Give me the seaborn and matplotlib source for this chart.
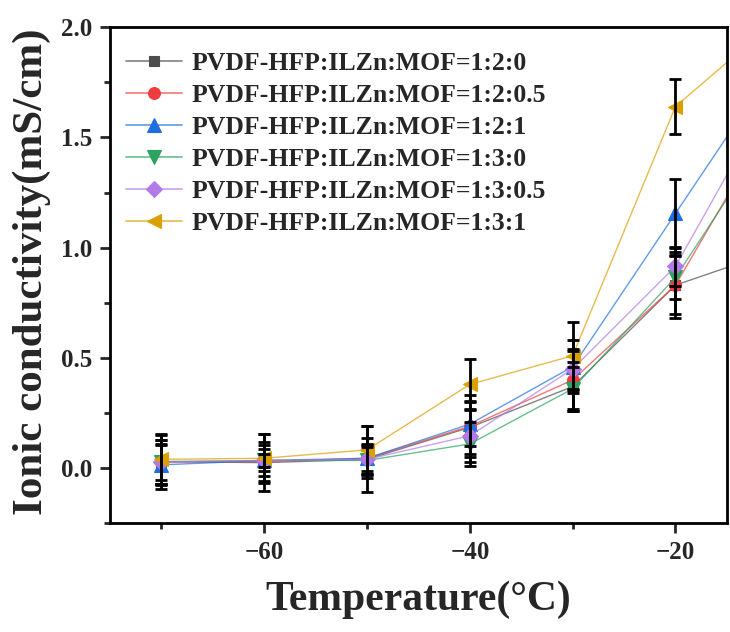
import matplotlib
matplotlib.use("Agg")
import matplotlib.pyplot as plt
import matplotlib.colors as mcolors
import seaborn as sns
import numpy as np
import pandas as pd
from matplotlib.ticker import MultipleLocator

temps = [-70, -60, -50, -40, -30, -20, -10]

series_names = [
    "PVDF-HFP:ILZn:MOF=1:2:0",
    "PVDF-HFP:ILZn:MOF=1:2:0.5",
    "PVDF-HFP:ILZn:MOF=1:2:1",
    "PVDF-HFP:ILZn:MOF=1:3:0",
    "PVDF-HFP:ILZn:MOF=1:3:0.5",
    "PVDF-HFP:ILZn:MOF=1:3:1",
]

val_120 = [0.030, 0.025, 0.040, 0.185, 0.370, 0.830, 0.99]
val_1205 = [0.028, 0.030, 0.045, 0.190, 0.400, 0.830, 1.63]
val_121 = [0.015, 0.035, 0.045, 0.200, 0.460, 1.155, 1.85]
val_130 = [0.030, 0.035, 0.035, 0.110, 0.360, 0.865, 1.575]
val_1305 = [0.028, 0.035, 0.040, 0.147, 0.450, 0.915, 1.745]
val_131 = [0.040, 0.045, 0.083, 0.380, 0.510, 1.640, 2.04]

err_120 = [0.125, 0.13, 0.15, 0.12, 0.11, 0.15, 0.15]
err_1205 = [0.10, 0.09, 0.09, 0.14, 0.13, 0.13, 0.15]
err_121 = [0.09, 0.07, 0.06, 0.10, 0.12, 0.155, 0.15]
err_130 = [0.10, 0.05, 0.06, 0.10, 0.10, 0.10, 0.15]
err_1305 = [0.08, 0.03, 0.07, 0.12, 0.09, 0.09, 0.15]
err_131 = [0.11, 0.11, 0.11, 0.115, 0.155, 0.125, 0.15]

values = [val_120, val_1205, val_121, val_130, val_1305, val_131]
errors = [err_120, err_1205, err_121, err_130, err_1305, err_131]

colors = ["#4d4d4d", "#f03c3c", "#1f6fe0", "#2ca35e", "#b27ae6", "#d9a000"]
markers = ["s", "o", "^", "v", "D", "<"]
msizes = [7.5, 8.5, 10.5, 10.5, 8, 10.5]

sns.set_theme(style="ticks")
plt.rcParams["font.family"] = ["Liberation Serif", "DejaVu Serif"]
plt.rcParams["font.weight"] = "bold"
plt.rcParams["axes.labelweight"] = "bold"

fig = plt.figure(figsize=(7.3, 6.32), dpi=100)
ax = fig.add_axes([0.1507, 0.172, 0.845, 0.785])

for name, vals, col, mk, ms in zip(series_names, values, colors, markers, msizes):
    d = pd.DataFrame({"T": temps, "v": vals})
    sns.lineplot(data=d, x="T", y="v", ax=ax, color=col, marker=mk,
                 markersize=ms, linewidth=1.0, markeredgecolor=col,
                 markerfacecolor=col, markeredgewidth=0.8, label=name,
                 clip_on=True)
    ln = ax.get_lines()[-1]
    ln.set_color(mcolors.to_rgba(col, 0.7))

for vals, errs in zip(values, errors):
    ax.errorbar(temps, vals, yerr=errs, fmt="none", ecolor="black",
                elinewidth=2.0, capsize=4, capthick=2.0, zorder=5)

ax.set_xlim(-75, -15)
ax.set_ylim(-0.25, 2.0)
ax.xaxis.set_major_locator(MultipleLocator(20))
ax.xaxis.set_minor_locator(MultipleLocator(10))
ax.yaxis.set_major_locator(MultipleLocator(0.5))
ax.yaxis.set_minor_locator(MultipleLocator(0.25))
ax.tick_params(axis="both", which="major", direction="out", length=7, width=2,
               labelsize=18, pad=6)
ax.tick_params(axis="both", which="minor", direction="out", length=4, width=2)
for lab in ax.get_xticklabels() + ax.get_yticklabels():
    lab.set_fontweight("bold")

for sp in ax.spines.values():
    sp.set_visible(True)
    sp.set_linewidth(2)
    sp.set_color("black")

ax.set_xlabel("Temperature(°C)", fontsize=30, fontweight="bold", labelpad=12)
ax.set_ylabel("Ionic conductivity(mS/cm)", fontsize=31, fontweight="bold")
ax.yaxis.set_label_coords(-0.095, 0.507)

leg = ax.legend(loc="upper left", bbox_to_anchor=(0.0, 0.982), frameon=False,
                prop={"family": "Liberation Serif", "weight": "bold", "size": 18.5},
                handlelength=2.2, labelspacing=0.35, borderaxespad=0.22,
                borderpad=0.4, handletextpad=0.34)
for h in leg.get_lines():
    h.set_linewidth(1.2)

fig.savefig("out.png", dpi=100)
